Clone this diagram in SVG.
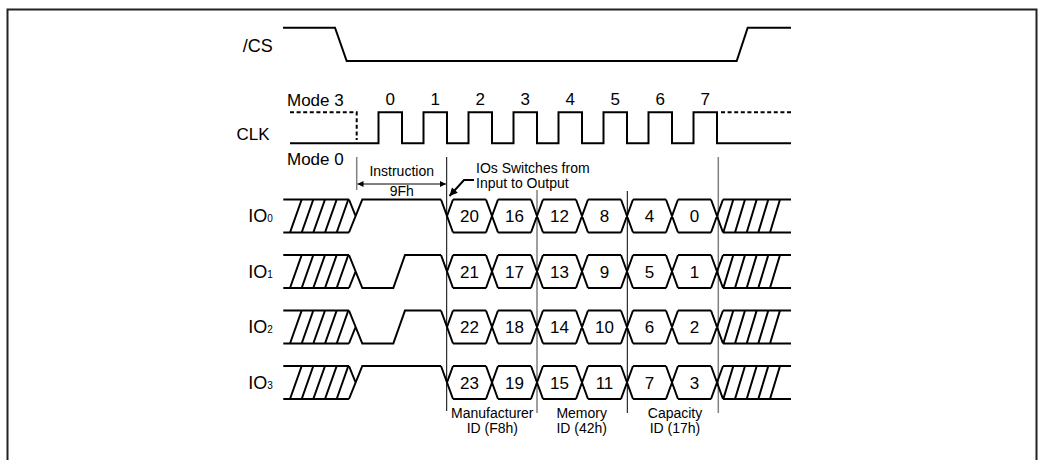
<svg xmlns="http://www.w3.org/2000/svg" width="1046" height="460" viewBox="0 0 1046 460">
<style>
.sig{fill:none;stroke:#000;stroke-width:2;stroke-linecap:butt;stroke-linejoin:miter}
.dash{fill:none;stroke:#000;stroke-width:2;stroke-dasharray:4 2.6}
.gk{stroke:#000;stroke-width:1;fill:none}
.gg{stroke:#808080;stroke-width:1.5;fill:none}
text{font-family:"Liberation Sans",Arial,sans-serif;fill:#000}
.t18{font-size:18px}
.t17{font-size:17px}
.t14{font-size:14px}
.num{font-size:17px;text-anchor:middle}
.mid{text-anchor:middle}
</style>
<defs>
<marker id="ah" viewBox="0 0 10 10" refX="10" refY="5" markerWidth="8" markerHeight="6" markerUnits="userSpaceOnUse" orient="auto-start-reverse">
<path d="M0,0 L10,5 L0,10 Z" fill="#000"/>
</marker>
<marker id="ah2" viewBox="0 0 10 10" refX="10" refY="5" markerWidth="5" markerHeight="4" orient="auto">
<path d="M0,0 L10,5 L0,10 Z" fill="#000"/>
</marker>
<path id="hatchL" class="sig" d="M283.3,0 H349 M283.3,33 H349 M290,33 L301.7,0 M301.7,33 L313.3,0 M313.3,33 L325,0 M325,33 L336.7,0 M336.7,33 L348.3,0"/>
<path id="instHigh" class="sig" d="M349,33 L362.3,0 H441 M349,0 L355.6,16.5"/>
<path id="instLow" class="sig" d="M349,0 L362.3,33 H393.3 L405,0 H441 M349,33 L355.6,16.5"/>
<path id="data" class="sig" d="M441,0 L453,33 M447,16.5 L453,0 M453,0 H486 M453,33 H486 M486,0 L498,33 M486,33 L498,0 M498,0 H531 M498,33 H531 M531,0 L543,33 M531,33 L543,0 M543,0 H576 M543,33 H576 M576,0 L588,33 M576,33 L588,0 M588,0 H621 M588,33 H621 M621,0 L633,33 M621,33 L633,0 M633,0 H666 M633,33 H666 M666,0 L678,33 M666,33 L678,0 M678,0 H711 M678,33 H711 M711,0 L723,33 M711,33 L723,0 M723,0 H791 M723,33 H791 M723.3,33 L733.3,0 M735,33 L745,0 M746.7,33 L756.7,0 M758.3,33 L768.3,0 M770,33 L780,0"/>
</defs>

<path d="M7.5,460 V9.5 H1036.5 V460" fill="none" stroke="#222" stroke-width="2"/>

<g id="cs">
<text class="t18" x="242.7" y="52.3">/CS</text>
<path class="sig" d="M283,27.7 H335 L346.7,61 H736.7 L747.7,27.7 H791"/>
</g>

<g id="clk">
<text class="t17" x="287" y="105.5">Mode 3</text>
<text class="t17" x="236.5" y="140">CLK</text>
<text class="t17" x="287" y="165">Mode 0</text>
<path class="dash" d="M290,112.3 H356.7 V140"/>
<path class="dash" d="M721,112.3 H791"/>
<path class="sig" d="M290,143.3 H378.5 V112.3 H402 V143.3 H423.5 V112.3 H447 V143.3 H468.5 V112.3 H492 V143.3 H513.5 V112.3 H537 V143.3 H558.5 V112.3 H582 V143.3 H603.5 V112.3 H627 V143.3 H648.5 V112.3 H672 V143.3 H693.5 V112.3 H717 V143.3 H791"/>
<text class="num" x="390.3" y="105">0</text>
<text class="num" x="435.3" y="105">1</text>
<text class="num" x="480.3" y="105">2</text>
<text class="num" x="525.3" y="105">3</text>
<text class="num" x="570.3" y="105">4</text>
<text class="num" x="615.3" y="105">5</text>
<text class="num" x="660.3" y="105">6</text>
<text class="num" x="705.3" y="105">7</text>
</g>

<g id="connectors">
<path class="gg" d="M356.7,157 V190"/>
<path class="gk" d="M446.7,157 V411"/>
<path class="gg" d="M537,190 V413"/>
<path class="gk" d="M627.3,191 V413"/>
<path class="gg" d="M718.3,157 V413"/>
<path d="M357.5,184 H446" fill="none" stroke="#000" stroke-width="1" marker-start="url(#ah)" marker-end="url(#ah)"/>
<path d="M474,180 H464 L449.5,196" fill="none" stroke="#000" stroke-width="2" marker-end="url(#ah2)"/>
</g>

<g id="labels">
<text class="t14 mid" x="401.7" y="176">Instruction</text>
<text class="t14 mid" x="401.7" y="196">9Fh</text>
<text class="t14" x="476" y="172.7">IOs Switches from</text>
<text class="t14" x="476" y="187.5">Input to Output</text>
<text class="t14 mid" x="492.3" y="418">Manufacturer</text>
<text class="t14 mid" x="492.3" y="432.5">ID (F8h)</text>
<text class="t14 mid" x="581.7" y="418">Memory</text>
<text class="t14 mid" x="581.7" y="432.5">ID (42h)</text>
<text class="t14 mid" x="675" y="418">Capacity</text>
<text class="t14 mid" x="675" y="432.5">ID (17h)</text>
</g>

<g id="io0" transform="translate(0,199.5)">
<text class="t18" x="248.3" y="22.5">IO<tspan font-size="10">0</tspan></text>
<use href="#hatchL"/><use href="#instHigh"/><use href="#data"/>
<text class="num" x="469.5" y="22.5">20</text><text class="num" x="514.5" y="22.5">16</text><text class="num" x="559.5" y="22.5">12</text><text class="num" x="604.5" y="22.5">8</text><text class="num" x="649.5" y="22.5">4</text><text class="num" x="694.5" y="22.5">0</text>
</g>

<g id="io1" transform="translate(0,255)">
<text class="t18" x="248.3" y="22.5">IO<tspan font-size="10">1</tspan></text>
<use href="#hatchL"/><use href="#instLow"/><use href="#data"/>
<text class="num" x="469.5" y="22.5">21</text><text class="num" x="514.5" y="22.5">17</text><text class="num" x="559.5" y="22.5">13</text><text class="num" x="604.5" y="22.5">9</text><text class="num" x="649.5" y="22.5">5</text><text class="num" x="694.5" y="22.5">1</text>
</g>

<g id="io2" transform="translate(0,310.5)">
<text class="t18" x="248.3" y="22.5">IO<tspan font-size="10">2</tspan></text>
<use href="#hatchL"/><use href="#instLow"/><use href="#data"/>
<text class="num" x="469.5" y="22.5">22</text><text class="num" x="514.5" y="22.5">18</text><text class="num" x="559.5" y="22.5">14</text><text class="num" x="604.5" y="22.5">10</text><text class="num" x="649.5" y="22.5">6</text><text class="num" x="694.5" y="22.5">2</text>
</g>

<g id="io3" transform="translate(0,366)">
<text class="t18" x="248.3" y="22.5">IO<tspan font-size="10">3</tspan></text>
<use href="#hatchL"/><use href="#instHigh"/><use href="#data"/>
<text class="num" x="469.5" y="22.5">23</text><text class="num" x="514.5" y="22.5">19</text><text class="num" x="559.5" y="22.5">15</text><text class="num" x="604.5" y="22.5">11</text><text class="num" x="649.5" y="22.5">7</text><text class="num" x="694.5" y="22.5">3</text>
</g>
</svg>
